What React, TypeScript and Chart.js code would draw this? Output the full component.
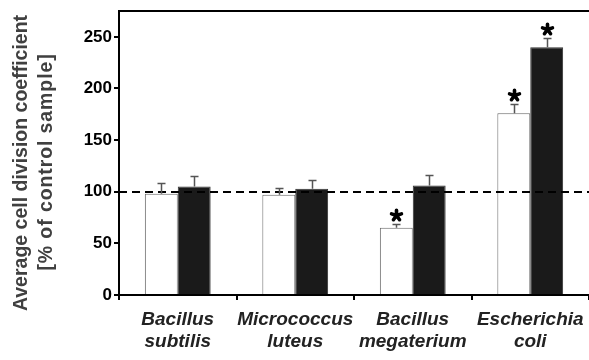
import React, { useEffect, useRef } from "react";
import { Chart, registerables } from "chart.js";

Chart.register(...registerables);

const categories: string[][] = [
  ["Bacillus", "subtilis"],
  ["Micrococcus", "luteus"],
  ["Bacillus", "megaterium"],
  ["Escherichia", "coli"],
];
const whiteValues = [98, 97, 65, 176];
const whiteErrors = [10, 7, 4, 9];
const blackValues = [105, 103, 106, 240];
const blackErrors = [10, 8, 10, 9];
const whiteStars = [false, false, true, true];
const blackStars = [false, false, false, true];
const referenceValue = 100;
const yTicks = [0, 50, 100, 150, 200, 250];
const yTitle = ["Average cell division coefficient", "[% of control sample]"];

const FONT = "'Liberation Sans', Arial, Helvetica, sans-serif";

function drawStar(ctx: CanvasRenderingContext2D, cx: number, cy: number) {
  ctx.save();
  ctx.strokeStyle = "#000";
  ctx.lineWidth = 3.6;
  ctx.lineCap = "round";
  const r = 5.2;
  ctx.beginPath();
  for (let k = 0; k < 5; k++) {
    const a = -Math.PI / 2 + (k * 2 * Math.PI) / 5;
    ctx.moveTo(cx, cy);
    ctx.lineTo(cx + r * Math.cos(a), cy + r * Math.sin(a));
  }
  ctx.stroke();
  ctx.restore();
}

const overlayPlugin = {
  id: "overlay",
  afterDatasetsDraw(chart: any) {
    const { ctx, chartArea } = chart;
    const ys = chart.scales.y;
    const errs = [whiteErrors, blackErrors];
    const vals = [whiteValues, blackValues];
    const stars = [whiteStars, blackStars];
    ctx.save();
    const yRef = Math.round(ys.getPixelForValue(referenceValue));
    ctx.strokeStyle = "#000";
    ctx.lineWidth = 2;
    ctx.setLineDash([8, 5]);
    ctx.beginPath();
    ctx.moveTo(chartArea.left, yRef);
    ctx.lineTo(chartArea.right, yRef);
    ctx.stroke();
    ctx.setLineDash([]);
    for (let d = 0; d < 2; d++) {
      const meta = chart.getDatasetMeta(d);
      meta.data.forEach((bar: any, i: number) => {
        const x = Math.round(bar.x) + 0.5;
        const yTop = ys.getPixelForValue(vals[d][i]);
        const yErr = Math.round(ys.getPixelForValue(vals[d][i] + errs[d][i])) + 0.5;
        ctx.strokeStyle = "#555";
        ctx.lineWidth = 1.5;
        ctx.beginPath();
        ctx.moveTo(x, yTop);
        ctx.lineTo(x, yErr);
        ctx.moveTo(x - 4, yErr);
        ctx.lineTo(x + 4, yErr);
        ctx.stroke();
        if (stars[d][i]) {
          drawStar(ctx, x, yErr - 9);
        }
      });
    }
    // top frame line
    ctx.strokeStyle = "#000";
    ctx.lineWidth = 2;
    ctx.beginPath();
    ctx.moveTo(chartArea.left, chartArea.top);
    ctx.lineTo(chartArea.right, chartArea.top);
    ctx.stroke();
    ctx.restore();
  },
  afterDraw(chart: any) {
    const { ctx } = chart;
    ctx.save();
    ctx.fillStyle = "#404040";
    ctx.font = `bold 19.5px ${FONT}`;
    ctx.textAlign = "center";
    ctx.textBaseline = "alphabetic";
    const pos = [
      { x: 27, y: 163, spacing: "0px" },
      { x: 52, y: 162, spacing: "0.9px" },
    ];
    yTitle.forEach((t, i) => {
      ctx.save();
      (ctx as any).letterSpacing = pos[i].spacing;
      ctx.translate(pos[i].x, pos[i].y);
      ctx.rotate(-Math.PI / 2);
      ctx.fillText(t, 0, 0);
      ctx.restore();
    });
    ctx.restore();
  },
};

export default function App() {
  const canvasRef = useRef<HTMLCanvasElement | null>(null);

  useEffect(() => {
    document.body.style.margin = "0";
    const canvas = canvasRef.current;
    if (!canvas) return;
    const chart = new Chart(canvas, {
      type: "bar",
      data: {
        labels: categories,
        datasets: [
          {
            label: "white",
            data: whiteValues,
            backgroundColor: "#ffffff",
            borderColor: "#666666",
            borderWidth: 1,
            categoryPercentage: 0.56,
            barPercentage: 1,
          },
          {
            label: "black",
            data: blackValues,
            backgroundColor: "#1a1a1a",
            borderColor: "#333333",
            borderWidth: 1,
            categoryPercentage: 0.56,
            barPercentage: 1,
          },
        ],
      },
      options: {
        animation: false,
        responsive: false,
        maintainAspectRatio: false,
        layout: { padding: { top: 11, left: 0, right: 0, bottom: 0 } },
        plugins: {
          legend: { display: false },
          tooltip: { enabled: false },
        },
        scales: {
          x: {
            offset: true,
            grid: {
              offset: true,
              drawOnChartArea: false,
              drawTicks: true,
              tickLength: 5,
              color: "#000",
              lineWidth: 2,
            },
            border: { color: "#000", width: 2 },
            ticks: {
              color: "#222",
              font: { family: FONT, size: 19, weight: "bold", style: "italic", lineHeight: 1.15 },
              padding: 9,
              maxRotation: 0,
              autoSkip: false,
            },
            afterFit(scale: any) {
              scale.height = 65;
              scale.paddingLeft = 0;
              scale.paddingRight = 0;
            },
          },
          y: {
            min: 0,
            max: 275,
            afterBuildTicks(scale: any) {
              scale.ticks = yTicks.map((v) => ({ value: v }));
            },
            grid: {
              drawOnChartArea: false,
              drawTicks: true,
              tickLength: 5,
              color: "#000",
              lineWidth: 2,
            },
            border: { color: "#000", width: 2 },
            ticks: {
              color: "#000",
              font: { family: FONT, size: 17, weight: "bold" },
              padding: 2,
            },
            title: { display: false },
            afterFit(scale: any) {
              scale.width = 119;
              scale.paddingTop = 0;
              scale.paddingBottom = 0;
            },
          },
        },
      },
      plugins: [overlayPlugin],
    });
    return () => chart.destroy();
  }, []);

  return (
    <div style={{ position: "fixed", left: 0, top: 0, width: 589, height: 360, background: "#fff" }}>
      <canvas ref={canvasRef} width={589} height={360} style={{ width: 589, height: 360, display: "block" }} />
    </div>
  );
}
